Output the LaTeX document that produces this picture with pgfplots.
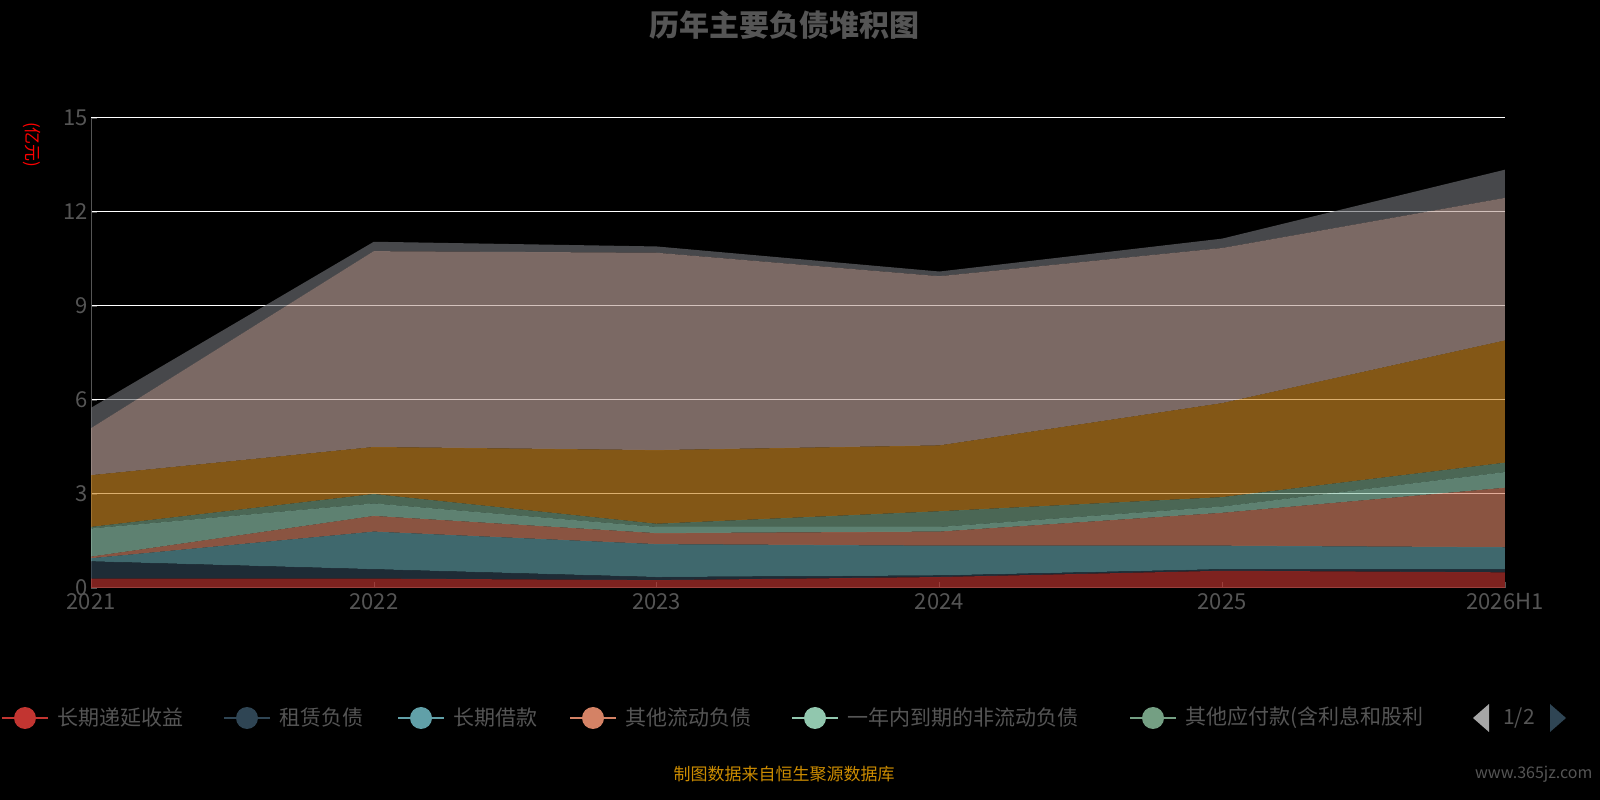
\documentclass[border=0pt]{standalone}
\usepackage{pgfplots}
\pgfplotsset{compat=1.18}
\usepackage{fontspec}
\setmainfont{Noto Sans CJK SC}
\definecolor{c1}{HTML}{C23531}\definecolor{c2}{HTML}{2F4554}\definecolor{c3}{HTML}{61A0A8}
\definecolor{c4}{HTML}{D48265}\definecolor{c5}{HTML}{91C7AE}\definecolor{c6}{HTML}{749F83}
\definecolor{c7}{HTML}{CA8622}\definecolor{c8}{HTML}{BDA29A}\definecolor{c9}{HTML}{6E7074}
\definecolor{tx}{HTML}{555555}
\begin{document}
\begin{tikzpicture}[x=1pt,y=1pt]
\useasboundingbox (0,0) rectangle (1600,800);
\clip (0,0) rectangle (1600,800);
\fill[black] (0,0) rectangle (1600,800);
\begin{axis}[at={(91pt,212pt)},anchor=origin,scale only axis,width=1414pt,height=470pt,
 xmin=0,xmax=5,ymin=0,ymax=15,xtick={0,...,5},xticklabels={2021,2022,2023,2024,2025,2026H1},
 ytick={0,3,...,15},ymajorgrids,grid style={white,line width=1pt},
 axis x line*=bottom,axis y line*=left,axis line style={tx,line width=1pt},
 tick style={tx},major tick length=6pt,
 ticklabel style={font=\fontsize{22}{22}\selectfont,text=tx},
 xticklabel style={yshift=-2pt},
 /pgf/number format/assume math mode=true,
 stack plots=y,every axis plot/.style={draw=none,fill opacity=0.65},
 clip=false]
\addplot[fill=c1] coordinates {(0,0.3)(1,0.3)(2,0.25)(3,0.35)(4,0.55)(5,0.5)} \closedcycle;
\addplot[fill=c2] coordinates {(0,0.55)(1,0.3)(2,0.1)(3,0.05)(4,0.05)(5,0.1)} \closedcycle;
\addplot[fill=c3] coordinates {(0,0.1)(1,1.2)(2,1.05)(3,0.95)(4,0.75)(5,0.7)} \closedcycle;
\addplot[fill=c4] coordinates {(0,0.05)(1,0.5)(2,0.35)(3,0.45)(4,1.05)(5,1.9)} \closedcycle;
\addplot[fill=c5] coordinates {(0,0.9)(1,0.4)(2,0.2)(3,0.15)(4,0.2)(5,0.5)} \closedcycle;
\addplot[fill=c6] coordinates {(0,0.05)(1,0.3)(2,0.1)(3,0.5)(4,0.3)(5,0.3)} \closedcycle;
\addplot[fill=c7] coordinates {(0,1.65)(1,1.5)(2,2.35)(3,2.1)(4,3.0)(5,3.9)} \closedcycle;
\addplot[fill=c8] coordinates {(0,1.5)(1,6.25)(2,6.3)(3,5.4)(4,4.95)(5,4.55)} \closedcycle;
\addplot[fill=c9] coordinates {(0,0.65)(1,0.3)(2,0.2)(3,0.15)(4,0.3)(5,0.9)} \closedcycle;
\end{axis}
\node[text=tx,font=\bfseries\fontsize{30}{30}\selectfont] at (784,775) {历年主要负债堆积图};
\node[red,rotate=-90,font=\fontsize{17}{17}\selectfont] at (32,655) {(亿元)};
\node[text={rgb,255:red,204;green,140;blue,0},font=\fontsize{17}{17}\selectfont] at (784,26) {制图数据来自恒生聚源数据库};
\node[text=tx,font=\fontsize{16}{16}\selectfont,anchor=east] at (1596,26) {www.365jz.com};
\foreach \c/\t/\x in {c1/长期递延收益/0,c2/租赁负债/222,c3/长期借款/396,c4/其他流动负债/568,c5/一年内到期的非流动负债/790,c6/其他应付款(含利息和股利/1128}{
 \draw[\c,line width=2pt] (\x+2,82)--(\x+48,82);
 \fill[\c] (\x+25,82) circle (11);
 \node[text=tx,anchor=west,font=\fontsize{21}{21}\selectfont] at (\x+54,82) {\t};
}
\fill[gray!70] (1473,82)--(1489,96)--(1489,68)--cycle;
\node[text=tx,font=\fontsize{21}{21}\selectfont] at (1519,82) {1/2};
\fill[c2] (1566,82)--(1550,96)--(1550,68)--cycle;
\end{tikzpicture}
\end{document}
